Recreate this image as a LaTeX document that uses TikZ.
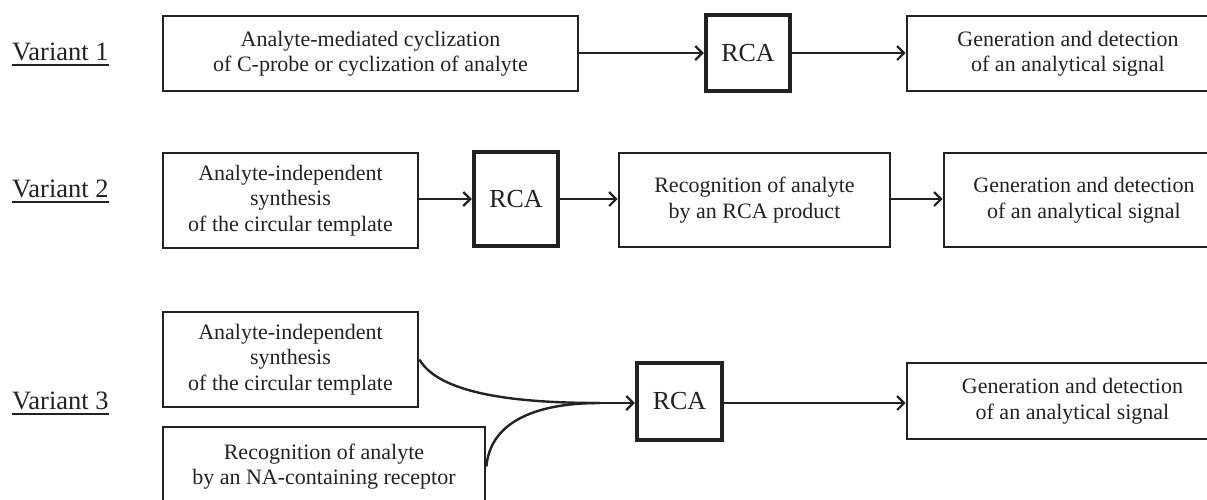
\documentclass[tikz,border=0pt]{standalone}
\usepackage{fontspec}
\setmainfont{Liberation Serif}
\usetikzlibrary{arrows.meta}
\definecolor{ink}{HTML}{222222}
\begin{document}
\begin{tikzpicture}[x=1pt,y=-1pt,
  box/.style={draw=ink,line width=2.8pt,text=ink,align=center,inner sep=0pt,
    font=\fontsize{22}{25.5}\selectfont},
  rcabox/.style={draw=ink,line width=4.4pt,text=ink,inner sep=0pt,
    font=\fontsize{26}{28}\selectfont},
  vlab/.style={text=ink,inner sep=0pt,anchor=base west,font=\fontsize{26.5}{28}\selectfont},
  arr/.style={draw=ink,line width=2.2pt,-{Straight Barb[length=7pt,width=14pt,line width=2.2pt]}},
  conn/.style={draw=ink,line width=2.4pt},
  uline/.style={draw=ink,line width=1.6pt}]
\useasboundingbox (0,0) rectangle (1207,499);
\clip (0,0) rectangle (1207,499);
\newcommand{\boxat}[7]{\node[#1,minimum width={#5-#3},minimum height={#6-#4}] (#2) at ({(#3+#5)/2},{(#4+#6)/2}) {#7};}
% labels
\node[vlab] (v1) at (12,60) {Variant 1};
\node[vlab] (v2) at (12,197) {Variant 2};
\node[vlab] (v3) at (12,409) {Variant 3};
\foreach \v in {v1,v2,v3}{\draw[uline] ([yshift=-5]\v.base west) -- ([yshift=-5]\v.base east);}
% row 1
\boxat{box}{b11}{163}{16}{578}{91}{Analyte-mediated cyclization\\of C-probe or cyclization of analyte}
\boxat{rcabox}{r1}{706}{15}{790}{91}{RCA}
\boxat{box}{g1}{907}{16}{1229}{91}{Generation and detection\\of an analytical signal}
\draw[arr] (b11.east |- r1) -- (r1.west);
\draw[arr] (r1.east) -- (g1.west |- r1);
% row 2
\boxat{box}{b21}{163}{153}{418}{248}{Analyte-independent\\synthesis\\of the circular template}
\boxat{rcabox}{r2}{474}{152}{558}{246}{RCA}
\boxat{box}{b22}{619}{153}{890}{247}{Recognition of analyte\\by an RCA product}
\boxat{box}{g2}{944}{153}{1224}{247}{Generation and detection\\of an analytical signal}
\draw[arr] (b21.east |- r2) -- (r2.west);
\draw[arr] (r2.east) -- (b22.west |- r2);
\draw[arr] (b22.east |- r2) -- (g2.west |- r2);
% row 3
\boxat{box}{b31}{163}{312}{418}{407}{Analyte-independent\\synthesis\\of the circular template}
\boxat{box}{b32}{163}{427}{485}{506}{Recognition of analyte\\by an NA-containing receptor}
\boxat{rcabox}{r3}{637}{363}{722}{440}{RCA}
\boxat{box}{g3}{907}{363}{1238}{439}{Generation and detection\\of an analytical signal}
\coordinate (m) at (600,403);
\draw[conn] (b31.east) .. controls (440,395) and (520,403) .. (m);
\draw[conn] (b32.east) .. controls (490,425) and (530,403) .. (m);
\draw[arr] (m) -- (r3.west |- m);
\draw[arr] (r3.east |- m) -- (g3.west |- m);
\end{tikzpicture}
\end{document}
